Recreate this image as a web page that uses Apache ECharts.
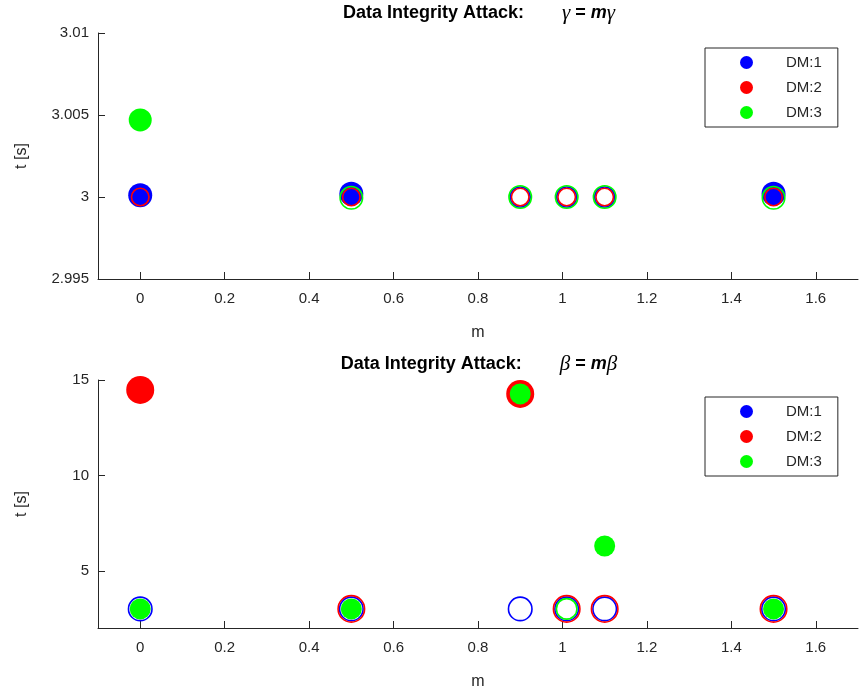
<!DOCTYPE html>
<html>
<head>
<meta charset="utf-8">
<script src="https://cdn.jsdelivr.net/npm/echarts@6/dist/echarts.min.js"></script>
<style>
  html, body { margin: 0; padding: 0; background: #fff; }
  #chart { width: 859px; height: 698px; }
</style>
</head>
<body>
<div id="chart"></div>
<script>
// attack scale factor m
const mValues = [0, 0.5, 0.9, 1.01, 1.1, 1.5];
const mTicks = [0, 0.2, 0.4, 0.6, 0.8, 1, 1.2, 1.4, 1.6];
const gammaTicks = [2.995, 3, 3.005, 3.01];
const betaTicks = [5, 10, 15];
const dmNames = ['DM:1', 'DM:2', 'DM:3'];

// gamma = m*gamma
const gammaDM1 = [3.0001, 3.0002, 3.0, 3.0, 3.0, 3.0002];
const gammaDM2 = [3.0, 3.0, 3.0, 3.0, 3.0, 3.0];
const gammaDM3 = [3.0047, 2.99995, 3.0, 3.0, 3.0, 2.99995];
const gammaFilledDM1 = [1, 1, 0, 0, 0, 1];
const gammaFilledDM2 = [0, 0, 0, 0, 0, 0];
const gammaFilledDM3 = [1, 0, 0, 0, 0, 0];

// beta = m*beta
const betaDM1 = [3.0, 3.0, 3.0, 3.0, 3.0, 3.0];
const betaDM2 = [14.48, 3.0, 14.27, 3.0, 3.0, 3.0];
const betaDM3 = [3.0, 3.0, 14.27, 3.0, 6.3, 3.0];
const betaFilledDM1 = [0, 0, 0, 0, 0, 0];
const betaFilledDM2 = [1, 0, 1, 0, 0, 0];
const betaFilledDM3 = [1, 1, 1, 0, 1, 1];

const colors = ['#0000ff', '#ff0000', '#00ff00'];
const axisColor = '#262626';
const font = '"Liberation Sans", Arial, sans-serif';

function makeSeries(name, color, ys, filled, idx, sizeFilled, sizeOpen) {
  return {
    name: name,
    type: 'scatter',
    xAxisIndex: idx,
    yAxisIndex: idx,
    itemStyle: { color: color, opacity: 1 },
    emphasis: { disabled: true },
    data: mValues.map(function (m, i) {
      return {
        value: [m, ys[i]],
        symbolSize: filled[i] ? sizeFilled : sizeOpen,
        itemStyle: filled[i]
          ? { color: color, borderWidth: 0 }
          : { color: 'rgba(0,0,0,0)', borderColor: color, borderWidth: 1.6 }
      }
    })
  }
}

function xAxisFor(idx) {
  return {
    type: 'value',
    gridIndex: idx,
    min: -0.1,
    max: 1.7,
    name: 'm',
    nameLocation: 'middle',
    nameGap: 46,
    nameTextStyle: { color: axisColor, fontSize: 16, fontFamily: font },
    axisLine: { show: true, onZero: false, lineStyle: { color: axisColor, width: 1 } },
    axisTick: { show: true, inside: true, length: 7, customValues: mTicks, lineStyle: { color: axisColor } },
    axisLabel: { customValues: mTicks, color: axisColor, fontSize: 15, fontFamily: font, margin: 12 },
    splitLine: { show: false }
  }
}

function yAxisFor(idx, min, max, ticks, fmt) {
  return {
    type: 'value',
    gridIndex: idx,
    min: min,
    max: max,
    name: 't [s]',
    nameLocation: 'middle',
    nameGap: 68,
    nameTextStyle: { color: axisColor, fontSize: 16, fontFamily: font },
    axisLine: { show: true, onZero: false, lineStyle: { color: axisColor, width: 1 } },
    axisTick: { show: true, inside: true, length: 7, customValues: ticks, lineStyle: { color: axisColor } },
    axisLabel: { customValues: ticks, color: axisColor, fontSize: 15, fontFamily: font, margin: 9, formatter: fmt },
    splitLine: { show: false }
  }
}

function legendFor(top) {
  return {
    orient: 'vertical',
    left: 705,
    top: top,
    padding: [7, 16, 7, 35],
    itemWidth: 13,
    itemHeight: 13,
    itemGap: 10,
    borderColor: axisColor,
    borderWidth: 1,
    backgroundColor: '#fff',
    selectedMode: false,
    textStyle: { color: axisColor, fontSize: 15, fontFamily: font, padding: [0, 0, 0, 28] },
    data: dmNames.map(function (n, i) {
      return { name: n, icon: 'circle', itemStyle: { color: colors[i], borderWidth: 0 } }
    })
  }
}

function titleText(y, sym) {
  return {
    type: 'text',
    x: 479,
    y: y,
    style: {
      text: '{b|Data Integrity Attack:}{sp|}{g|' + sym + '}{b| = }{m|m}{g|' + sym + '}',
      align: 'center',
      verticalAlign: 'middle',
      rich: {
        b: { fontSize: 18, fontWeight: 'bold', fontFamily: font, fill: '#000' },
        sp: { width: 38 },
        m: { fontSize: 18, fontWeight: 'bold', fontStyle: 'italic', fontFamily: font, fill: '#000' },
        g: { fontSize: 21, fontStyle: 'italic', fontFamily: '"Liberation Serif", serif', fill: '#000' }
      }
    }
  }
}

let ch = echarts.init(document.getElementById('chart'))
let option = {
  animation: false,
  backgroundColor: '#fff',
  grid: [
    { left: 98, top: 33, width: 760, height: 246 },
    { left: 98, top: 380, width: 760, height: 248 }
  ],
  xAxis: [xAxisFor(0), xAxisFor(1)],
  yAxis: [
    yAxisFor(0, 2.995, 3.01, gammaTicks, function (v) { return String(parseFloat(v.toFixed(3))) }),
    yAxisFor(1, 2, 15, betaTicks, function (v) { return String(v) })
  ],
  legend: [legendFor(48), legendFor(397)],
  graphic: [titleText(13, 'γ'), titleText(364, 'β')],
  series: [
    makeSeries('DM:1', colors[0], gammaDM1, gammaFilledDM1, 0, 24, 20),
    makeSeries('DM:2', colors[1], gammaDM2, gammaFilledDM2, 0, 19, 17.5),
    makeSeries('DM:3', colors[2], gammaDM3, gammaFilledDM3, 0, 23, 22.5),
    makeSeries('DM:1', colors[0], betaDM1, betaFilledDM1, 1, 25, 23.5),
    makeSeries('DM:2', colors[1], betaDM2, betaFilledDM2, 1, 28, 26.5),
    makeSeries('DM:3', colors[2], betaDM3, betaFilledDM3, 1, 21, 20.5)
  ]
}
ch.setOption(option)
</script>
</body>
</html>
